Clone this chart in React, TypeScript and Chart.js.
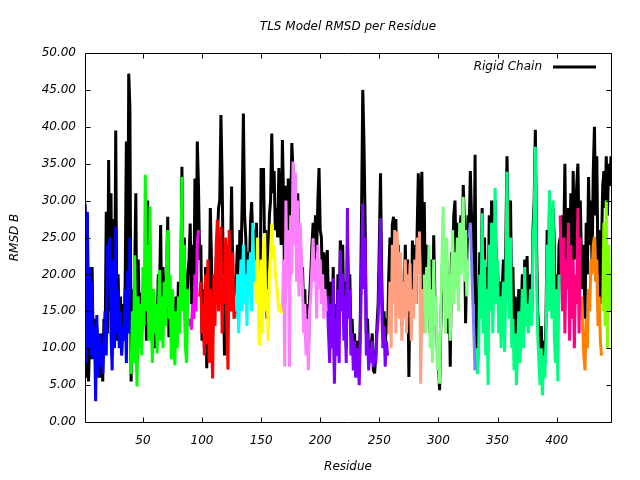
import React, { useEffect, useRef } from "react";
import { Chart, registerables } from "chart.js";

Chart.register(...registerables);

// ---- axis settings ----
const X_MIN = 1;
const X_MAX = 446;
const X_TICKS = [50, 100, 150, 200, 250, 300, 350, 400];
const Y_MIN = 0;
const Y_MAX = 50;
const Y_STEP = 5;

const TITLE = "TLS Model RMSD per Residue";
const X_LABEL = "Residue";
const Y_LABEL = "RMSD B";
const LEGEND_LABEL = "Rigid Chain";

// ---- rigid chain RMSD, residues 1..446 ----
const rigidChain = [
  29.5, 6, 28, 5.5, 12, 8.5, 21, 9, 14, 8,
  13, 8.5, 11, 6, 12, 5.5, 14, 10, 28.5, 12,
  35.5, 15, 31, 9, 27.5, 13, 39.5, 11, 20, 12,
  17, 9.5, 16, 12, 19, 38, 14, 47.2, 42.5, 5.5,
  18, 12, 20, 31, 8, 22, 13, 17.5, 12, 16,
  14, 20, 11, 30, 15, 22, 12, 15, 18, 10,
  14, 12, 20, 17, 26.7, 13, 21, 15, 19, 20,
  27.8, 11.5, 18, 12, 16, 10.5, 13, 17, 11, 19,
  14, 18, 34.6, 16, 25, 11, 14, 20, 22, 26.9,
  16, 24, 14, 33, 20, 38, 32, 22, 24, 11,
  18, 10, 21, 7.3, 19, 14, 29, 22, 12, 19,
  16, 22, 25, 29, 30, 41.6, 33, 20, 9, 17,
  14, 24, 19, 21, 31.9, 20, 17, 18, 20, 24,
  16, 26, 22, 30, 41.8, 28, 25, 18, 23, 20,
  27, 29.8, 24, 26, 22, 27, 20, 22, 14, 34.4,
  30, 34.4, 23, 26, 14, 20, 28, 30, 39.1, 31,
  34, 26, 29, 25, 34.4, 27, 24, 38.2, 30, 16,
  32, 26, 33, 21, 29, 37.8, 34, 28, 30, 25,
  31, 22, 26, 19, 21, 15, 18, 11, 16, 9,
  17, 20, 24, 27, 22, 28, 23, 30, 34.4, 26,
  25, 18, 23, 16, 21, 23.3, 16, 10, 19, 12,
  21, 7, 16, 11, 20, 13, 24.6, 22, 24, 14,
  19, 10, 24, 18, 20, 12, 14, 9, 12, 8,
  11, 10, 7, 15, 29, 45, 38, 27, 12, 14,
  9, 11, 10, 12, 7, 6.6, 9, 13, 16, 24,
  33.7, 20, 12, 15, 10, 14, 12, 20, 25, 16,
  26.7, 27.8, 22, 27.5, 18, 24, 15, 21, 13, 18,
  17, 24, 14, 22, 6.1, 19, 13, 24.6, 18, 24,
  16, 26, 33.7, 22, 30, 33.9, 18, 29.8, 16, 24,
  18, 21, 12, 22, 9, 25.3, 17, 14, 10, 8,
  4.3, 13, 19, 25, 20, 16, 22, 12, 18, 7.5,
  23, 21, 28, 30, 22, 27, 20, 25, 28, 22,
  32.1, 27, 13.4, 22, 28, 26, 34, 28, 22, 16,
  36.2, 11, 9, 14, 23, 17, 29, 15, 25, 12,
  21, 15, 28, 18, 30, 19, 23, 30, 20, 21,
  17, 19, 14, 18, 22, 16, 24, 36, 27, 18,
  30, 15, 21, 12, 17, 9, 13, 18, 11, 15,
  20, 13, 22, 16, 22.5, 14, 18, 20, 15, 26,
  30, 39.6, 24, 15, 12, 9, 13, 7, 11, 8,
  14, 26, 18, 30, 20, 16, 29, 24.5, 12, 20,
  15, 24, 25, 20, 28, 24, 35, 18, 25, 29,
  20, 31, 17, 34, 22, 28, 32, 35, 25, 30,
  22, 18, 24, 14, 27, 20, 33.2, 24, 30, 21,
  34, 40, 28, 36, 20, 26, 16, 24, 32, 34,
  29, 36, 28, 35, 32, 36,
];

// ---- TLS segments: first residue, colour, values ----
const tlsStarts = [1, 40, 89, 98, 129, 145, 168, 206, 258, 288, 326, 332, 403, 421, 439];
const tlsColors = [
  "#0000ff", "#00ff00", "#ff00ff", "#ff0000", "#00ffff",
  "#ffff00", "#ff80ff", "#8000ff", "#ffa080", "#80ff80",
  "#8080ff", "#00ff80", "#ff0080", "#ff8000", "#80ff00",
];

const tlsBlue = [29.5, 8, 28.5, 10, 21, 9, 19, 8.5, 13, 2.8, 14.5, 6, 12, 7.5, 10.5, 6.5, 11, 15, 9, 24, 20, 25, 12, 7, 22, 10, 26.5, 12, 18, 10, 15, 9, 13, 11, 18, 8, 20.5, 12, 25];
const tlsGreen = [6.5, 15, 8, 22.6, 12, 4.8, 17, 10, 16, 9, 21, 13, 33.5, 15, 24, 11, 29.2, 14, 8, 18, 12, 16, 9.3, 14, 20.6, 11, 17, 10, 19, 13, 22, 26, 14, 20, 8.5, 18, 11, 7.7, 15, 10, 17, 12, 19, 33.2, 15, 24, 10, 8, 18];
const tlsMagenta = [13, 14, 12.5, 16, 14, 20, 15, 24, 26];
const tlsRed = [17, 19, 12, 16, 9, 20, 10.5, 22, 8, 18, 11, 5.9, 20, 13, 24, 27.4, 15, 22, 26.5, 12, 20, 16, 25, 13, 7.1, 26, 18, 15, 23, 14, 15];
const tlsCyan = [14, 20, 12, 18, 22, 15, 24, 16, 20, 13, 22, 17, 23, 15, 27, 19];
const tlsYellow = [21, 16, 25, 11, 10.4, 22, 12, 24, 25.6, 15, 18, 11, 20, 23, 26.9, 22, 24, 20, 19, 17, 15, 16, 14.7];
const tlsViolet = [15, 22, 7.5, 30, 18, 26, 7.5, 28, 20, 35.3, 24, 33.8, 19, 30, 17, 27, 23, 18, 12, 16, 9, 14, 7, 15, 17, 21, 24.9, 19, 22, 14, 24, 18, 22, 16, 20, 14, 18, 15];
const tlsPurple = [17, 12, 8, 16, 10, 19.5, 5.2, 14, 9, 18, 8, 23.3, 15, 20, 11, 17, 8, 29, 14, 18, 9, 12, 7, 11, 6, 10, 8, 5, 12, 21, 29.6, 18, 25, 9, 12, 7, 10, 8, 11, 7.5, 9, 8, 12, 14, 20, 27.6, 16, 10, 13, 7.5, 11, 9];
const tlsSalmon = [12, 19, 10, 24, 16, 26, 12, 25.8, 21, 14, 23, 11, 19, 14, 22, 12, 20, 15, 21.5, 11, 18, 14, 22, 16, 25, 20, 25.8, 5.2, 18, 12];
const tlsLightGreen = [20, 12, 21, 14, 24, 10, 18, 8, 22, 13, 17, 7, 12, 5.2, 15, 22, 29.2, 18, 12, 25, 14, 20, 11, 19, 26, 16, 23, 18, 25, 15, 27, 20, 24, 30.5, 19, 26, 17, 22];
const tlsSlate = [25, 27, 22, 17, 12, 7];
const tlsSpring = [10, 6.5, 9, 20, 14, 28.3, 12, 22, 9, 18, 5, 24, 15, 27, 12, 20, 31.7, 16, 22, 12, 17, 10, 15, 19, 9.5, 18, 33.9, 21, 14, 25, 10, 14, 7, 12, 5, 10, 15, 8, 12, 18, 10, 21, 13, 16, 12, 15, 18, 13, 24, 28, 37.3, 20, 12, 8, 5, 10, 3.6, 9, 6, 11, 24, 15, 31.4, 18, 14, 30, 12, 8, 18, 5.5, 20];
const tlsDeepPink = [28, 20, 15, 25, 12, 22, 18, 27, 11, 24, 14, 22, 10, 20, 16, 29, 12, 25];
const tlsOrange = [17, 13, 9, 7, 14, 10, 18, 15, 22, 20, 24, 25.1, 19, 22, 13, 17, 11, 9];
const tlsYellowGreen = [15, 27, 13, 30, 10, 24, 19, 15];

const tlsValues = [
  tlsBlue, tlsGreen, tlsMagenta, tlsRed, tlsCyan,
  tlsYellow, tlsViolet, tlsPurple, tlsSalmon, tlsLightGreen,
  tlsSlate, tlsSpring, tlsDeepPink, tlsOrange, tlsYellowGreen,
];

const FONT_FAMILY = "'DejaVu Sans', 'Liberation Sans', sans-serif";

const framePlugin = {
  id: "gnuFrame",
  afterDraw(chart: any) {
    const { ctx, chartArea: a, scales } = chart;
    ctx.save();
    ctx.strokeStyle = "#000";
    ctx.lineWidth = 1;
    const l = Math.round(a.left) + 0.5;
    const r = Math.round(a.right) + 0.5;
    const t = Math.round(a.top) + 0.5;
    const b = Math.round(a.bottom) + 0.5;
    ctx.beginPath();
    ctx.rect(l, t, r - l, b - t);
    const tl = 5;
    scales.x.ticks.forEach((tk: any) => {
      const px = Math.round(scales.x.getPixelForValue(tk.value)) + 0.5;
      ctx.moveTo(px, b);
      ctx.lineTo(px, b - tl);
      ctx.moveTo(px, t);
      ctx.lineTo(px, t + tl);
    });
    scales.y.ticks.forEach((tk: any) => {
      const py = Math.round(scales.y.getPixelForValue(tk.value)) + 0.5;
      ctx.moveTo(l, py);
      ctx.lineTo(l + tl, py);
      ctx.moveTo(r, py);
      ctx.lineTo(r - tl, py);
    });
    ctx.stroke();

    // legend (top right, inside plot)
    const ly = a.top + 14;
    ctx.font = `italic 12px ${FONT_FAMILY}`;
    ctx.fillStyle = "#000";
    ctx.textAlign = "right";
    ctx.textBaseline = "middle";
    ctx.fillText(LEGEND_LABEL, a.right - 69, ly);
    ctx.lineWidth = 3;
    ctx.beginPath();
    ctx.moveTo(a.right - 58, ly);
    ctx.lineTo(a.right - 15, ly);
    ctx.stroke();
    ctx.restore();
  },
};

export default function App() {
  const canvasRef = useRef<HTMLCanvasElement | null>(null);

  useEffect(() => {
    document.body.style.margin = "0";
    const canvas = canvasRef.current;
    if (!canvas) return;

    const tlsDatasets = tlsValues.map((vals, k) => ({
      label: "TLS " + (k + 1),
      data: vals.map((v, i) => ({ x: tlsStarts[k] + i, y: v })),
      borderColor: tlsColors[k],
      backgroundColor: tlsColors[k],
      borderWidth: 3,
      pointRadius: 0,
      tension: 0,
      borderJoinStyle: "bevel" as const,
      order: 0,
    }));

    const rigidDataset = {
      label: LEGEND_LABEL,
      data: rigidChain.map((v, i) => ({ x: X_MIN + i, y: v })),
      borderColor: "#000000",
      backgroundColor: "#000000",
      borderWidth: 3,
      pointRadius: 0,
      tension: 0,
      borderJoinStyle: "bevel" as const,
      order: 1,
    };

    const chart = new Chart(canvas, {
      type: "line",
      data: { datasets: [...tlsDatasets, rigidDataset] as any },
      options: {
        animation: false,
        responsive: false,
        maintainAspectRatio: false,
        layout: { padding: { left: 0, right: 29, top: 0, bottom: 0 } },
        plugins: {
          legend: { display: false },
          tooltip: { enabled: false },
          title: {
            display: true,
            text: TITLE,
            color: "#000",
            fullSize: false,
            font: { family: FONT_FAMILY, size: 12, style: "italic", weight: "normal" },
            padding: { top: 20, bottom: 18.6 },
          },
        },
        scales: {
          x: {
            type: "linear",
            min: X_MIN,
            max: X_MAX,
            grid: { display: false, drawTicks: false },
            border: { display: false },
            afterBuildTicks: (scale: any) => {
              scale.ticks = X_TICKS.map((v) => ({ value: v }));
            },
            afterFit: (scale: any) => {
              scale.height = 58;
            },
            ticks: {
              color: "#000",
              padding: 12,
              maxRotation: 0,
              autoSkip: false,
              font: { family: FONT_FAMILY, size: 12, style: "italic" },
              callback: (v: any) => String(v),
            },
            title: {
              display: true,
              text: X_LABEL,
              color: "#000",
              font: { family: FONT_FAMILY, size: 12, style: "italic" },
              padding: { top: 0, bottom: 6 },
            },
          },
          y: {
            type: "linear",
            min: Y_MIN,
            max: Y_MAX,
            grid: { display: false, drawTicks: false },
            border: { display: false },
            afterFit: (scale: any) => {
              scale.width = 85;
            },
            ticks: {
              stepSize: Y_STEP,
              color: "#000",
              padding: 9,
              font: { family: FONT_FAMILY, size: 12, style: "italic" },
              callback: (v: any) => Number(v).toFixed(2),
            },
            title: {
              display: true,
              text: Y_LABEL,
              color: "#000",
              font: { family: FONT_FAMILY, size: 12, style: "italic" },
              padding: { top: 8, bottom: 0 },
            },
          },
        },
      },
      plugins: [framePlugin],
    });

    return () => {
      chart.destroy();
    };
  }, []);

  return (
    <div style={{ width: 640, height: 480, background: "#fff" }}>
      <canvas ref={canvasRef} width={640} height={480} style={{ display: "block" }} />
    </div>
  );
}
